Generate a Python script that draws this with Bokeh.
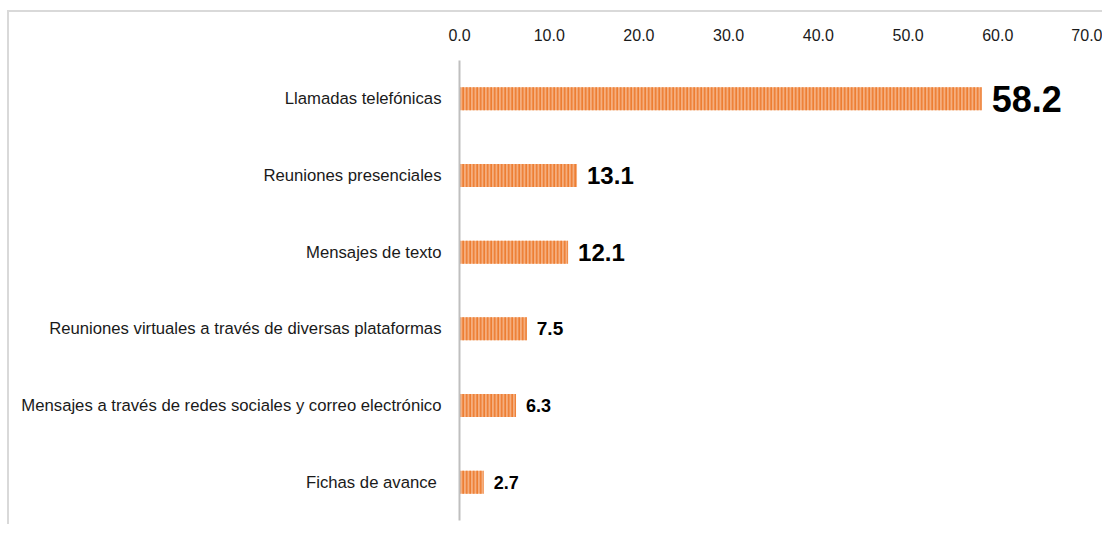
from bokeh.plotting import figure
from bokeh.models import ColumnDataSource, FactorRange, Range1d, FixedTicker, NumeralTickFormatter
from bokeh.core.properties import value
from bokeh.embed import file_html
from bokeh.resources import INLINE

# ---- data ----
categories = [
    "Llamadas telefónicas",
    "Reuniones presenciales",
    "Mensajes de texto",
    "Reuniones virtuales a través de diversas plataformas",
    "Mensajes a través de redes sociales y correo electrónico",
    "Fichas de avance ",
]
values = [58.2, 13.1, 12.1, 7.5, 6.3, 2.7]
x_ticks = [0, 10, 20, 30, 40, 50, 60, 70]

# ---- styles (not data) ----
label_font_sizes = ["36px", "24px", "24px", "19px", "18px", "18px"]
FONT = "Liberation Sans"

source = ColumnDataSource(dict(
    cat=categories,
    val=values,
    txt=["%.1f" % v for v in values],
    fs=label_font_sizes,
))

p = figure(
    width=1095, height=514,
    y_range=FactorRange(factors=list(reversed(categories)), range_padding=0),
    x_range=Range1d(0, 70),
    x_axis_location="above",
    output_backend="svg", toolbar_location=None,
    min_border_left=450, min_border_right=17, min_border_top=48, min_border_bottom=6,
)
p.styles = {"border-top": "2px solid #d9d9d9", "border-left": "2px solid #d9d9d9",
            "margin-left": "7px", "margin-top": "10px"}

p.hbar(y="cat", right="val", left=0, height=0.3, source=source,
       fill_color="#F5AE7E", line_color=None,
       hatch_pattern="vertical_line", hatch_color="#ED7D31",
       hatch_scale=3.5, hatch_weight=1.7)

p.text(x="val", y="cat", text="txt", source=source,
       x_offset=10, text_align="left", text_baseline="middle",
       text_font=value(FONT), text_font_style="bold",
       text_font_size="fs", text_color="#000000")

p.xgrid.visible = False
p.ygrid.visible = False
p.outline_line_color = None
p.background_fill_color = "white"
p.border_fill_color = "white"

xa = p.xaxis[0]
xa.ticker = FixedTicker(ticks=x_ticks)
xa.formatter = NumeralTickFormatter(format="0.0")
xa.axis_line_color = None
xa.major_tick_line_color = None
xa.minor_tick_line_color = None
xa.major_tick_out = 0
xa.major_tick_in = 0
xa.major_label_standoff = 20
xa.major_label_text_font = FONT
xa.major_label_text_font_size = "16px"
xa.major_label_text_color = "#1a1a1a"

ya = p.yaxis[0]
ya.axis_line_color = "#BFBFBF"
ya.axis_line_width = 2
ya.major_tick_line_color = None
ya.minor_tick_line_color = None
ya.major_tick_out = 0
ya.major_tick_in = 0
ya.major_label_standoff = 18
ya.major_label_text_font = FONT
ya.major_label_text_font_size = "16.7px"
ya.major_label_text_color = "#1a1a1a"

open("out.html", "w").write(file_html(p, INLINE))
